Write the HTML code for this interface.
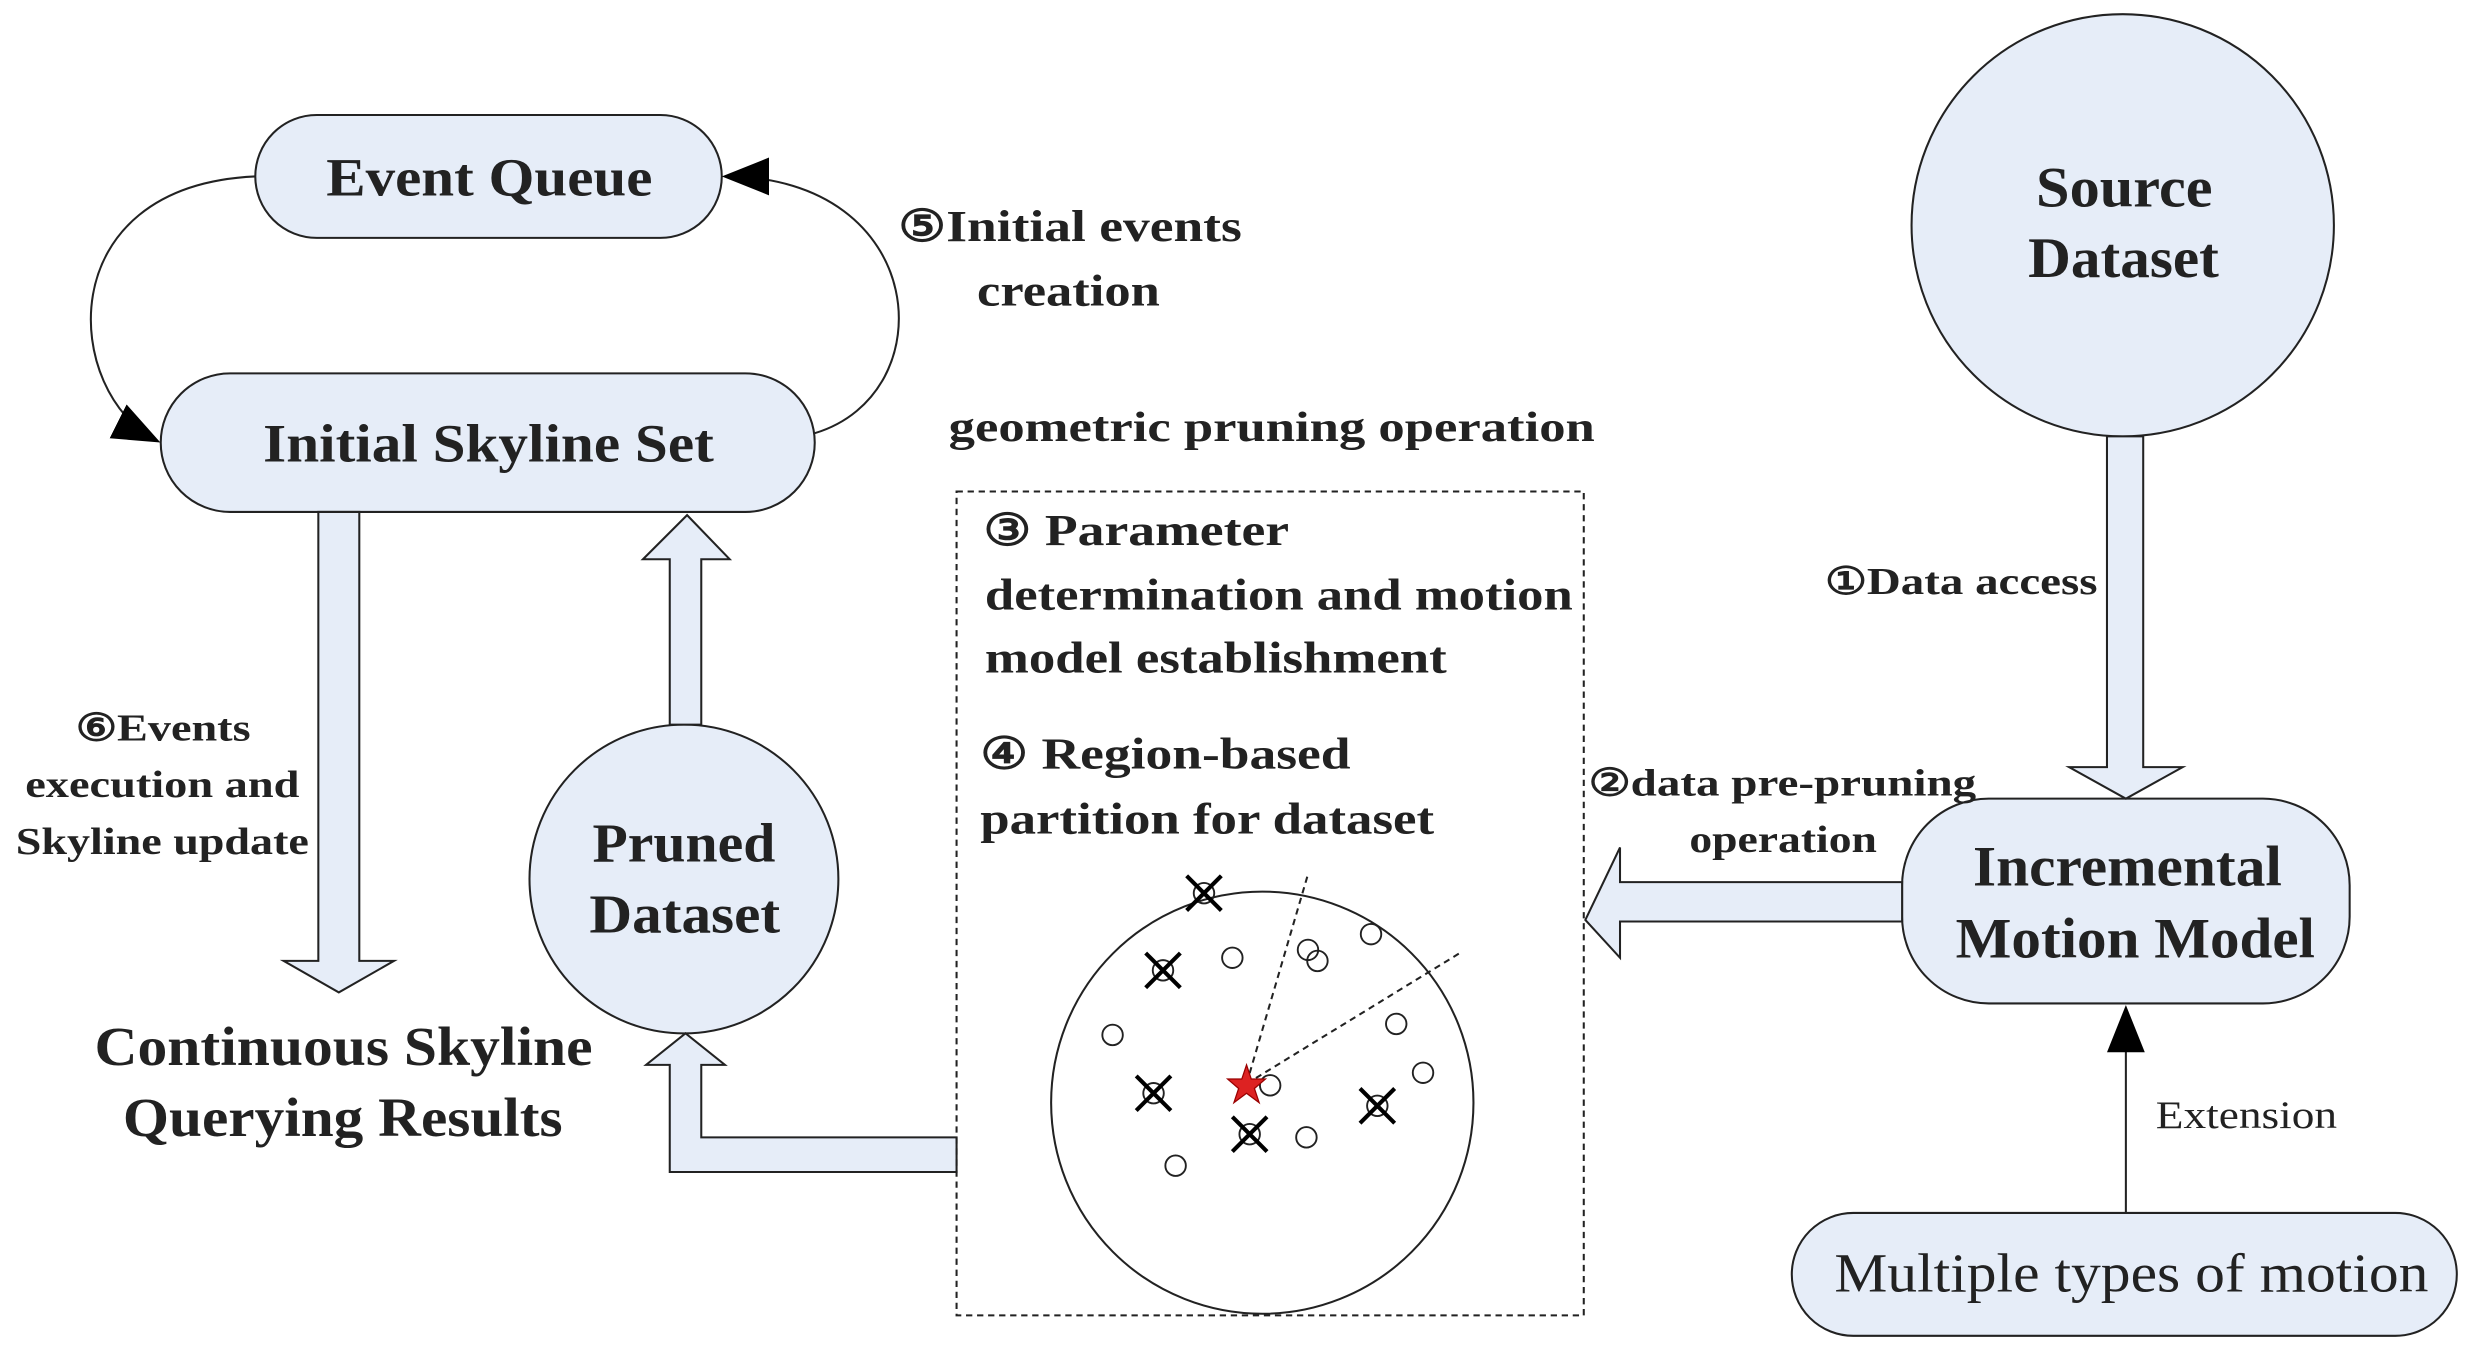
<!DOCTYPE html>
<html><head><meta charset="utf-8"><style>html,body{margin:0;padding:0;background:#fff}svg{display:block}text{font-family:"Liberation Serif","DejaVu Serif",serif;fill:#222}</style></head><body>
<svg width="2471" height="1350" viewBox="0 0 1568 857" preserveAspectRatio="none" xmlns="http://www.w3.org/2000/svg">
<defs><marker id="ah2" markerWidth="30" markerHeight="24" refX="28" refY="12" orient="auto" markerUnits="userSpaceOnUse"><path d="M0,0 L30,12 L0,24 z" fill="#000"/></marker></defs>
<g stroke="#222" stroke-width="1.3" fill="#e6edf8">
<rect x="162" y="73" width="296" height="78" rx="39"/>
<rect x="102" y="237" width="415" height="88" rx="44"/>
<circle cx="434" cy="558" r="98"/>
<circle cx="1347" cy="143" r="134"/>
<rect x="1207" y="507" width="284" height="130" rx="55"/>
<rect x="1137" y="770" width="422" height="78" rx="39"/>
<polygon points="202,325 228,325 228,610 250,610 215,630 180,610 202,610"/>
<polygon points="425,460 445,460 445,355 463,355 436,327 408,355 425,355"/>
<polygon points="607,722 445,722 445,676 460,676 435,656 410,676 425,676 425,744 607,744"/>
<polygon points="1337,277 1360,277 1360,487 1385,487 1349,507 1313,487 1337,487"/>
<polygon points="1207,560 1028,560 1028,538 1006,584 1028,608 1028,585 1207,585"/>
</g>
<g fill="none" stroke="#222" stroke-width="1.3">
<path d="M162,112 C30,118 40,250 100,280" marker-end="url(#ah2)"/>
<path d="M517,275 C600,250 590,112 460,112" marker-end="url(#ah2)"/>
<path d="M1349,770 L1349,640" marker-end="url(#ah2)"/>
<rect x="607" y="312" width="398" height="523" stroke-dasharray="4,3"/>
<circle cx="801" cy="700" r="134" fill="#fff"/>
<path d="M791,688 L830,555 M791,688 L928,604" stroke-dasharray="4,3"/>
<g stroke-width="1.2"><circle cx="782" cy="608" r="6.5"/><circle cx="830" cy="603" r="6.5"/><circle cx="836" cy="610" r="6.5"/><circle cx="870" cy="593" r="6.5"/><circle cx="706" cy="657" r="6.5"/><circle cx="886" cy="650" r="6.5"/><circle cx="903" cy="681" r="6.5"/><circle cx="806" cy="689" r="6.5"/><circle cx="829" cy="722" r="6.5"/><circle cx="746" cy="740" r="6.5"/>
<circle cx="764" cy="567" r="6.5"/><circle cx="738" cy="616" r="6.5"/><circle cx="732" cy="694" r="6.5"/><circle cx="793" cy="720" r="6.5"/><circle cx="874" cy="702" r="6.5"/></g>
<g stroke="#000" stroke-width="2.6"><path d="M753,556 l22,22 m0,-22 l-22,22"/><path d="M727,605 l22,22 m0,-22 l-22,22"/><path d="M721,683 l22,22 m0,-22 l-22,22"/><path d="M782,709 l22,22 m0,-22 l-22,22"/><path d="M863,691 l22,22 m0,-22 l-22,22"/></g>
</g>
<polygon points="791,676 794,685 803,685 796,691 799,700 791,694 783,700 786,691 779,685 788,685" fill="#d22" stroke="#900" stroke-width="0.8"/>
<g font-weight="bold" lengthAdjust="spacingAndGlyphs">
<text x="207" y="124" font-size="34" textLength="207" lengthAdjust="spacingAndGlyphs">Event Queue</text>
<text x="167" y="293" font-size="34" textLength="286" lengthAdjust="spacingAndGlyphs">Initial Skyline Set</text>
<text x="570" y="153" font-size="28" textLength="218" lengthAdjust="spacingAndGlyphs">⑤Initial events</text>
<text x="620" y="194" font-size="28" textLength="116" lengthAdjust="spacingAndGlyphs">creation</text>
<text x="602" y="280" font-size="27" textLength="410" lengthAdjust="spacingAndGlyphs">geometric pruning operation</text>
<text x="48" y="470" font-size="24" textLength="111" lengthAdjust="spacingAndGlyphs">⑥Events</text>
<text x="16" y="506" font-size="24" textLength="174" lengthAdjust="spacingAndGlyphs">execution and</text>
<text x="10" y="542" font-size="24" textLength="186" lengthAdjust="spacingAndGlyphs">Skyline update</text>
<text x="60" y="676" font-size="35" textLength="316" lengthAdjust="spacingAndGlyphs">Continuous Skyline</text>
<text x="78" y="721" font-size="35" textLength="279" lengthAdjust="spacingAndGlyphs">Querying Results</text>
<text x="376" y="547" font-size="35" textLength="116" lengthAdjust="spacingAndGlyphs">Pruned</text>
<text x="374" y="592" font-size="35" textLength="121" lengthAdjust="spacingAndGlyphs">Dataset</text>
<text x="624" y="346" font-size="28" textLength="194" lengthAdjust="spacingAndGlyphs">③ Parameter</text>
<text x="625" y="387" font-size="28" textLength="373" lengthAdjust="spacingAndGlyphs">determination and motion</text>
<text x="625" y="427" font-size="28" textLength="293" lengthAdjust="spacingAndGlyphs">model establishment</text>
<text x="622" y="488" font-size="28" textLength="235" lengthAdjust="spacingAndGlyphs">④ Region-based</text>
<text x="622" y="529" font-size="28" textLength="288" lengthAdjust="spacingAndGlyphs">partition for dataset</text>
<text x="1292" y="131" font-size="36" textLength="112" lengthAdjust="spacingAndGlyphs">Source</text>
<text x="1287" y="176" font-size="36" textLength="121" lengthAdjust="spacingAndGlyphs">Dataset</text>
<text x="1158" y="377" font-size="24" textLength="173" lengthAdjust="spacingAndGlyphs">①Data access</text>
<text x="1008" y="505" font-size="24" textLength="246" lengthAdjust="spacingAndGlyphs">②data pre-pruning</text>
<text x="1072" y="541" font-size="24" textLength="119" lengthAdjust="spacingAndGlyphs">operation</text>
<text x="1252" y="562" font-size="36" textLength="196" lengthAdjust="spacingAndGlyphs">Incremental</text>
<text x="1241" y="608" font-size="36" textLength="228" lengthAdjust="spacingAndGlyphs">Motion Model</text>
</g>
<text x="1368" y="716" font-size="25" textLength="115" lengthAdjust="spacingAndGlyphs">Extension</text>
<text x="1164" y="820" font-size="35" textLength="377" lengthAdjust="spacingAndGlyphs">Multiple types of motion</text>
</svg>
</body></html>
